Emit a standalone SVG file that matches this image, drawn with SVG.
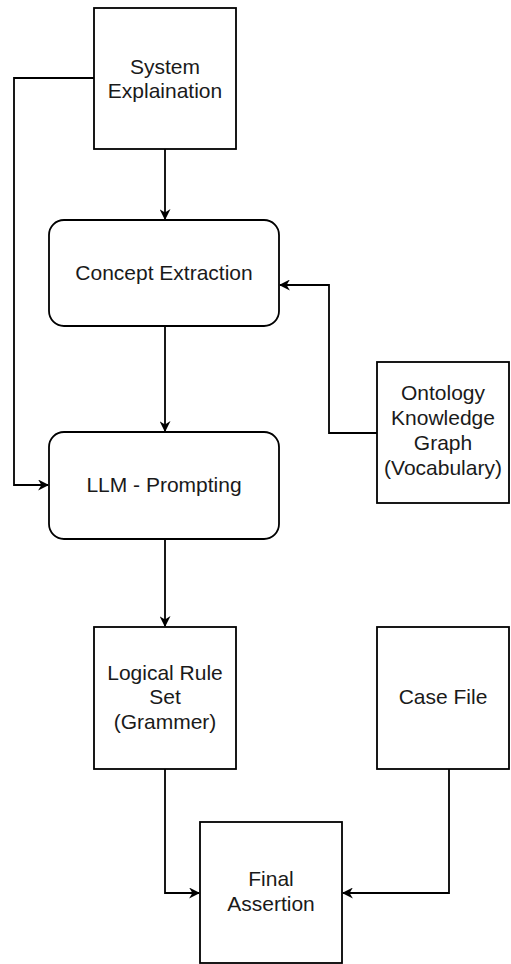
<svg xmlns="http://www.w3.org/2000/svg" width="511" height="964" viewBox="0 0 511 964">
<defs>
<style>
.box{fill:#fff;stroke:#000;stroke-width:1.8}
.lbl{font-family:"Liberation Sans",Arial,sans-serif;font-size:21px;fill:#1a1a1a;text-anchor:middle}
.edge{fill:none;stroke:#000;stroke-width:1.8}
</style>
<marker id="arr" viewBox="0 0 10 10" refX="9" refY="5" markerWidth="11" markerHeight="11" markerUnits="userSpaceOnUse" orient="auto">
<path d="M0,0 L10,5 L0,10 L3,5 Z" fill="#000"/>
</marker>
</defs>
<rect width="511" height="964" fill="#fff"/>
<g id="connectors">
<path class="edge" d="M165,149 V219" marker-end="url(#arr)"/>
<path class="edge" d="M165,326 V431" marker-end="url(#arr)"/>
<path class="edge" d="M165,539 V626" marker-end="url(#arr)"/>
<path class="edge" d="M94,78 H14 V485 H48" marker-end="url(#arr)"/>
<path class="edge" d="M377,433 H329 V285 H280" marker-end="url(#arr)"/>
<path class="edge" d="M165,769 V893 H199" marker-end="url(#arr)"/>
<path class="edge" d="M449,769 V893 H343" marker-end="url(#arr)"/>
</g>
<g id="system">
<rect class="box" x="94" y="8" width="142" height="141"/>
<text class="lbl" x="165" y="74">System</text>
<text class="lbl" x="165" y="98">Explaination</text>
</g>
<g id="concept">
<rect class="box" x="49" y="220" width="230" height="106" rx="15"/>
<text class="lbl" x="164" y="280">Concept Extraction</text>
</g>
<g id="llm">
<rect class="box" x="49" y="432" width="230" height="107" rx="15"/>
<text class="lbl" x="164" y="492">LLM - Prompting</text>
</g>
<g id="ontology">
<rect class="box" x="377" y="362" width="132" height="141"/>
<text class="lbl" x="443" y="400">Ontology</text>
<text class="lbl" x="443" y="425">Knowledge</text>
<text class="lbl" x="443" y="450">Graph</text>
<text class="lbl" x="443" y="475">(Vocabulary)</text>
</g>
<g id="logical">
<rect class="box" x="94" y="627" width="142" height="142"/>
<text class="lbl" x="165" y="680">Logical Rule</text>
<text class="lbl" x="165" y="704">Set</text>
<text class="lbl" x="165" y="729">(Grammer)</text>
</g>
<g id="casefile">
<rect class="box" x="377" y="627" width="132" height="142"/>
<text class="lbl" x="443" y="704">Case File</text>
</g>
<g id="final">
<rect class="box" x="200" y="822" width="142" height="141"/>
<text class="lbl" x="271" y="886">Final</text>
<text class="lbl" x="271" y="911">Assertion</text>
</g>
</svg>
